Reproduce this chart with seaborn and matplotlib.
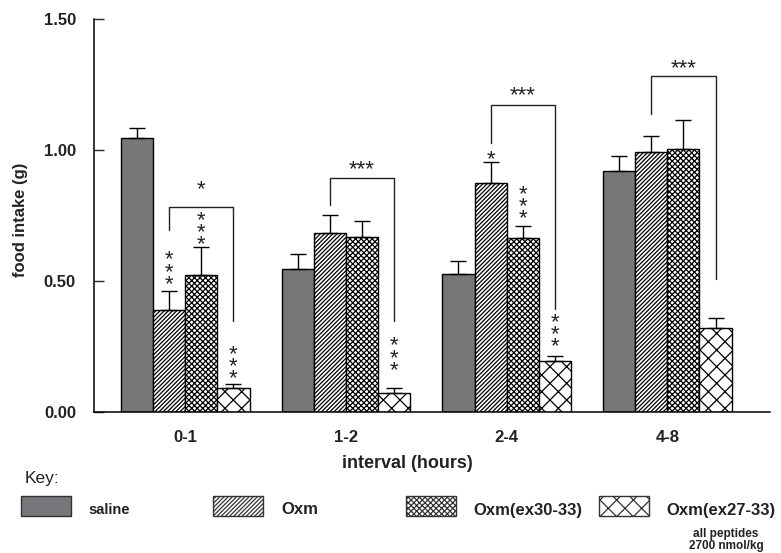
import numpy as np
import pandas as pd
import matplotlib
matplotlib.use("Agg")
import matplotlib.pyplot as plt
import seaborn as sns
from matplotlib.patches import Rectangle

# data
intervals = ["0-1", "1-2", "2-4", "4-8"]
treatments = ["saline", "Oxm", "Oxm(ex30-33)", "Oxm(ex27-33)"]
saline = [1.045, 0.543, 0.524, 0.918]
oxm = [0.389, 0.682, 0.873, 0.993]
oxm_30_33 = [0.520, 0.667, 0.662, 1.003]
oxm_27_33 = [0.090, 0.070, 0.193, 0.321]
sem_saline = [0.040, 0.060, 0.050, 0.060]
sem_oxm = [0.070, 0.068, 0.080, 0.060]
sem_30_33 = [0.110, 0.060, 0.047, 0.110]
sem_27_33 = [0.015, 0.020, 0.020, 0.035]

# brackets Oxm vs Oxm(ex27-33): top, left leg end, right leg end, label, label y
bracket_top = [0.780, 0.892, 1.173, 1.284]
bracket_left = [0.695, 0.788, 1.026, 1.138]
bracket_right = [0.344, 0.344, 0.390, 0.507]
bracket_text = ["*", "***", "***", "***"]
bracket_text_y = [0.866, 0.940, 1.224, 1.326]

# stars above single bars: (interval index, treatment index, label, y)
star_marks = [
    (0, 1, "***", 0.549),
    (0, 2, "***", 0.700),
    (0, 3, "***", 0.188),
    (1, 3, "***", 0.220),
    (2, 1, "*", 0.980),
    (2, 2, "***", 0.800),
    (2, 3, "***", 0.310),
]

gray = "#76777b"
colors = [gray, "white", "white", "white"]
hatches = ["", "////////", "xxxxxx", "xx"]

values = [saline, oxm, oxm_30_33, oxm_27_33]
errors = [sem_saline, sem_oxm, sem_30_33, sem_27_33]
rows = []
for t, vals in zip(treatments, values):
    for iv, v in zip(intervals, vals):
        rows.append({"interval": iv, "treatment": t, "intake": v})
df = pd.DataFrame(rows)

sns.set_style("white")
plt.rcParams["font.family"] = ["Liberation Sans", "DejaVu Sans"]
plt.rcParams["hatch.color"] = "black"
plt.rcParams["hatch.linewidth"] = 0.9

fig = plt.figure(figsize=(7.81, 5.53), dpi=100)
W, H = 781, 553
ax = fig.add_axes([94 / W, 1 - 411.5 / H, (770 - 94) / W, (411.5 - 19) / H])

sns.barplot(data=df, x="interval", y="intake", hue="treatment",
            order=intervals, hue_order=treatments, palette=colors,
            errorbar=None, width=0.8, edgecolor="black", linewidth=1,
            legend=False, ax=ax)

bar_groups = list(ax.containers)
centers = {}
for i, cont in enumerate(bar_groups):
    for j, bar in enumerate(cont.patches):
        bar.set_hatch(hatches[i])
        centers[(j, i)] = bar.get_x() + bar.get_width() / 2
    xs = [centers[(j, i)] for j in range(len(intervals))]
    ax.errorbar(xs, values[i], yerr=[np.zeros(len(intervals)), errors[i]],
                fmt="none", ecolor="black", elinewidth=1, capsize=6,
                capthick=1, zorder=3)

star_fs = 16
star_shift = -0.2 * star_fs  # points, asterisks sit high in their box

# significance brackets
for j in range(len(intervals)):
    xl = centers[(j, 1)]
    xr = centers[(j, 3)]
    ax.plot([xl, xl, xr, xr],
            [bracket_left[j], bracket_top[j], bracket_top[j], bracket_right[j]],
            color="#222222", lw=1, zorder=3)
    ax.annotate(bracket_text[j], ((xl + xr) / 2, bracket_text_y[j]),
                xytext=(0, star_shift), textcoords="offset points",
                ha="center", va="center", fontsize=star_fs, color="#222222")

for j, i, lab, y in star_marks:
    ax.annotate("\n".join(lab), (centers[(j, i)], y),
                xytext=(0, star_shift), textcoords="offset points",
                ha="center", va="center", fontsize=star_fs, linespacing=0.45,
                color="#222222")

ax.set_ylim(0, 1.5)
ax.set_xlim(-0.568, 3.639)
ax.set_yticks([0, 0.5, 1.0, 1.5])
ax.set_yticklabels(["0.00", "0.50", "1.00", "1.50"])
ax.tick_params(axis="y", direction="in", length=7, width=1, pad=13,
               labelsize=12, left=True)
ax.tick_params(axis="x", length=0, pad=13, labelsize=12)
for lab in ax.get_xticklabels() + ax.get_yticklabels():
    lab.set_fontweight("bold")
    lab.set_color("#222222")
sns.despine(ax=ax)
for s in ["left", "bottom"]:
    ax.spines[s].set_color("black")
    ax.spines[s].set_linewidth(1.1)

ax.set_ylabel("food intake (g)", fontsize=12, fontweight="bold", color="#222222")
ax.yaxis.set_label_coords(-66 / (770 - 94), 1 - (220 - 19) / (411.5 - 19))
ax.set_xlabel("")
fig.text(407 / W, 1 - 463 / H, "interval (hours)", ha="center", va="center",
         fontsize=13, fontweight="bold", color="#222222")

# key
fig.text(25 / W, 1 - 478 / H, "Key:", ha="left", va="center", fontsize=12.5,
         color="#222222")
patch_x = [21, 213, 406, 599]
text_x = [88, 281, 473, 666]
text_size = [10.5, 12, 12, 12]
for k in range(len(treatments)):
    fig.add_artist(Rectangle((patch_x[k] / W, 1 - 516 / H), 50 / W, 20 / H,
                             transform=fig.transFigure, facecolor=colors[k],
                             edgecolor="#333333", hatch=hatches[k], lw=1))
    fig.text(text_x[k] / W, 1 - 510 / H, treatments[k], ha="left", va="center",
             fontsize=text_size[k], fontweight="bold", color="#222222")

fig.text(726 / W, 1 - 534 / H, "all peptides", ha="center", va="center",
         fontsize=8.5, fontweight="bold", color="#222222")
fig.text(726 / W, 1 - 546 / H, "2700 nmol/kg", ha="center", va="center",
         fontsize=8.5, fontweight="bold", color="#222222")

fig.savefig("out.png", dpi=100)
